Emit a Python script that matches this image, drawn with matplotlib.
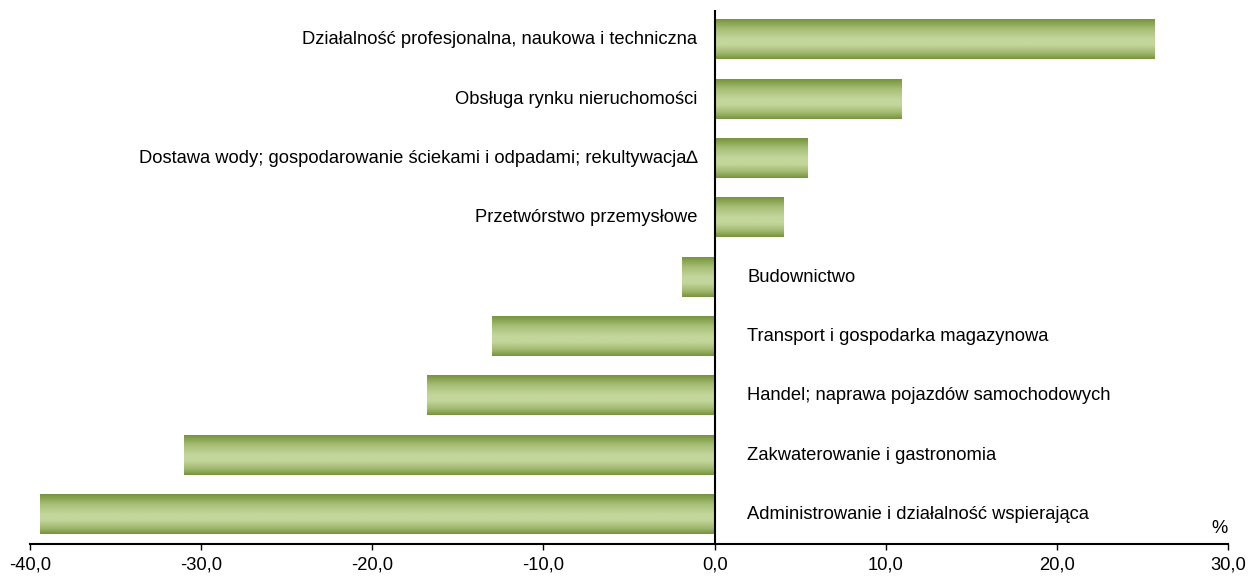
import matplotlib
matplotlib.use('Agg')
import matplotlib.pyplot as plt
import numpy as np
from matplotlib.colors import LinearSegmentedColormap
from matplotlib.ticker import FuncFormatter, MultipleLocator

plt.rcParams['font.family'] = ['Liberation Sans', 'DejaVu Sans']

# data, bottom to top
sectors = [
    "Administrowanie i działalność wspierająca",
    "Zakwaterowanie i gastronomia",
    "Handel; naprawa pojazdów samochodowych",
    "Transport i gospodarka magazynowa",
    "Budownictwo",
    "Przetwórstwo przemysłowe",
    "Dostawa wody; gospodarowanie ściekami i odpadami; rekultywacja\u2206",
    "Obsługa rynku nieruchomości",
    "Działalność profesjonalna, naukowa i techniczna",
]
values = [-39.4, -31.0, -16.8, -13.0, -1.9, 4.0, 5.4, 10.9, 25.7]

FS = 13.2

fig = plt.figure(figsize=(12.49, 5.77), dpi=100)
ax = fig.add_axes([30 / 1249, 33 / 577, 1198 / 1249, 534 / 577])

y = np.arange(len(values))
bars = ax.barh(y, values, height=0.66, color='none', edgecolor='none', zorder=3)

# cylinder-like vertical gradient in each bar
cmap = LinearSegmentedColormap.from_list(
    'grn', [(0.0, '#77933c'), (0.25, '#a6bf76'), (0.5, '#c3d69b'),
            (0.65, '#c3d69b'), (0.85, '#9fb86d'), (1.0, '#77933c')])
grad = np.linspace(0, 1, 256).reshape(-1, 1)
for b in bars:
    x0, w = b.get_x(), b.get_width()
    y0, h = b.get_y(), b.get_height()
    ax.imshow(grad, cmap=cmap, aspect='auto', origin='upper',
              extent=(x0, x0 + w, y0, y0 + h), zorder=2, interpolation='bilinear')

for yi, v, name in zip(y, values, sectors):
    if v >= 0:
        ax.text(-1.0, yi, name, ha='right', va='center', fontsize=FS)
    else:
        ax.text(1.9, yi, name, ha='left', va='center', fontsize=FS)

ax.set_xlim(-40, 30)
ax.set_ylim(-0.5, len(values) - 0.5)
ax.axvline(0, color='black', linewidth=1.5, zorder=4)

for s in ['left', 'right', 'top']:
    ax.spines[s].set_visible(False)
ax.spines['bottom'].set_linewidth(1.5)
ax.set_yticks([])
ax.xaxis.set_major_locator(MultipleLocator(10))
ax.xaxis.set_major_formatter(FuncFormatter(lambda v, p: f'{v:.1f}'.replace('.', ',')))
ax.tick_params(axis='x', direction='out', length=4, width=1, labelsize=FS, pad=5)

ax.annotate('%', xy=(29.5, -0.5), xytext=(0, 5), textcoords='offset points',
            ha='center', va='bottom', fontsize=FS)

fig.savefig('out.png', dpi=100, facecolor='white')
